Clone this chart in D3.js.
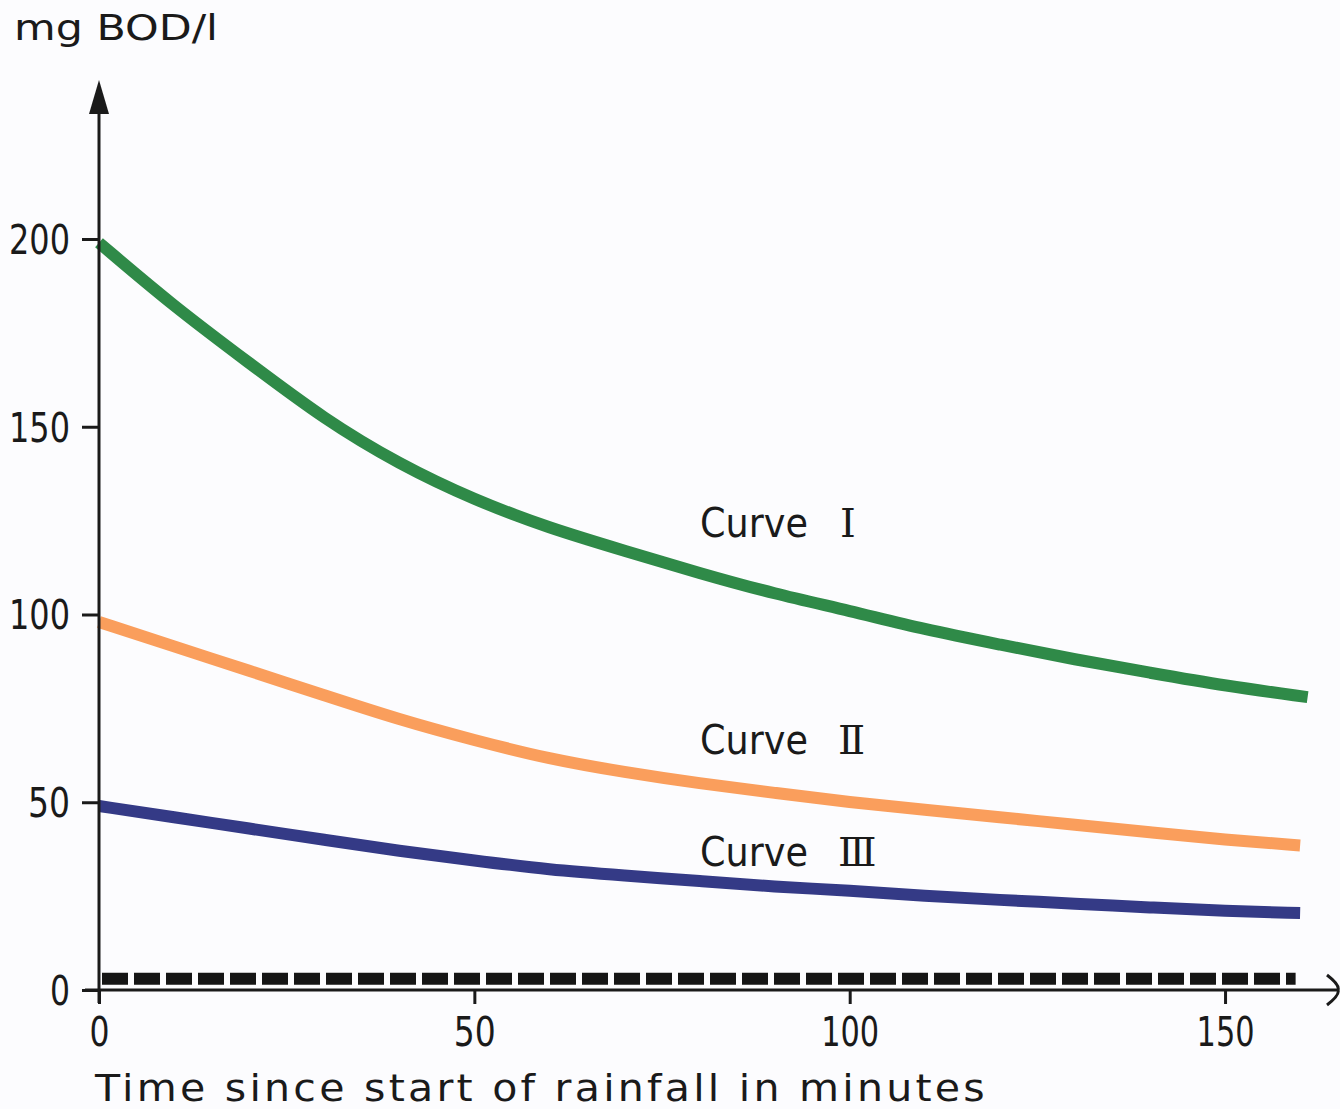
<!DOCTYPE html>
<html>
<head>
<meta charset="utf-8">
<script src="https://cdn.jsdelivr.net/npm/d3@7"></script>
<style>
  html, body { margin: 0; padding: 0; background: #fcfcfe; }
  svg { display: block; }
  text { font-family: "DejaVu Sans", "Noto Sans", sans-serif; fill: #1a1a1a; }
</style>
</head>
<body>
<svg id="chart" width="1340" height="1109"></svg>
<script>
// ---- data ----
const timeMinutes = [0, 10, 20, 30, 40, 50, 60, 70, 80, 90, 100, 110, 120, 130, 140, 150, 160];
const curveI   = [199, 182, 167, 152, 140, 130.5, 123, 117, 111, 105.5, 101, 96, 92, 88, 84.5, 81, 78];
const curveII  = [98, 91.5, 85, 78.5, 72, 66.5, 61.5, 58, 55, 52.5, 50, 48, 46, 44, 42, 40, 38.5];
const curveIII = [49, 46, 43, 40, 37, 34.5, 32, 30.5, 29, 27.5, 26.5, 25, 24, 23, 22, 21, 20.5];
const baselineTime = [0, 159];
const baselineValue = [3, 3];
const seriesNames = ["Curve", "Curve", "Curve"];
const seriesNumerals = ["\u2160", "\u2161", "\u2162"];
const seriesColors = ["#2f8a48", "#fa9e5c", "#343a86"];
const xTicks = [0, 50, 100, 150];
const yTicks = [0, 50, 100, 150, 200];
const yAxisTitle = "mg BOD/l";
const xAxisTitle = "Time since start of rainfall in minutes";

// ---- scales ----
const svg = d3.select("#chart");
const x = d3.scaleLinear().domain([0, 160]).range([99, 99 + 160 * 7.507]);
const y = d3.scaleLinear().domain([0, 200]).range([990, 239]);

// ---- baseline dashed series ----
const base = baselineTime.map((t, i) => [t, baselineValue[i]]);
svg.append("path")
  .attr("d", d3.line().x(d => x(d[0])).y(d => y(d[1]))(base))
  .attr("transform", "translate(3,0)")
  .attr("fill", "none")
  .attr("stroke", "#151515")
  .attr("stroke-width", 12)
  .attr("stroke-dasharray", "26,6");

// ---- curves ----
const line = d3.line().x(d => x(d[0])).y(d => y(d[1])).curve(d3.curveBasis);
const allSeries = [curveI, curveII, curveIII];
allSeries.forEach((vals, i) => {
  const pts = timeMinutes.map((t, j) => [t, vals[j]]);
  if (i === 0) pts[pts.length - 1][0] = 161;
  svg.append("path")
    .attr("d", line(pts))
    .attr("fill", "none")
    .attr("stroke", seriesColors[i])
    .attr("stroke-width", 12)
    .attr("stroke-linecap", "butt");
});

// ---- axes ----
const yAx = svg.append("g").attr("transform", `translate(${x(0)},0)`)
  .call(d3.axisLeft(y).tickValues(yTicks).tickSize(17).tickPadding(12));
yAx.select(".domain").remove();
yAx.selectAll(".tick line").attr("stroke", "#1a1a1a").attr("stroke-width", 3);
yAx.selectAll(".tick text")
  .attr("font-size", 40)
  .attr("dy", "0.36em")
  .attr("textLength", d => String(d).length === 1 ? 20 : String(d).length === 2 ? 42 : 61)
  .attr("lengthAdjust", "spacingAndGlyphs");

const xAx = svg.append("g").attr("transform", `translate(0,${y(0)})`)
  .call(d3.axisBottom(x).tickValues(xTicks).tickSize(14).tickPadding(14));
xAx.select(".domain").remove();
xAx.selectAll(".tick line").attr("stroke", "#1a1a1a").attr("stroke-width", 3);
xAx.selectAll(".tick text")
  .attr("font-size", 40)
  .attr("dy", "0.71em")
  .attr("textLength", d => String(d).length === 1 ? 20 : String(d).length === 2 ? 42 : 58)
  .attr("lengthAdjust", "spacingAndGlyphs");

// axis lines
svg.append("line").attr("x1", x(0)).attr("x2", x(0)).attr("y1", 1003).attr("y2", 100)
  .attr("stroke", "#1a1a1a").attr("stroke-width", 3);
svg.append("path").attr("d", `M${x(0)},80 L${x(0) - 10},114 L${x(0) + 10},114 Z`)
  .attr("fill", "#1a1a1a");
svg.append("line").attr("x1", x(0) - 14).attr("x2", 1337).attr("y1", y(0)).attr("y2", y(0))
  .attr("stroke", "#1a1a1a").attr("stroke-width", 3);
svg.append("path").attr("d", `M1327,975 Q1340,985 1338,990 Q1340,995 1327,1005`)
  .attr("fill", "none").attr("stroke", "#1a1a1a").attr("stroke-width", 3);

// ---- titles ----
svg.append("text").attr("x", 14).attr("y", 40).attr("font-size", 35)
  .attr("textLength", 204).attr("lengthAdjust", "spacingAndGlyphs").text(yAxisTitle);
svg.append("text").attr("x", 95).attr("y", 1101).attr("font-size", 38)
  .attr("letter-spacing", 3)
  .attr("textLength", 893).attr("lengthAdjust", "spacingAndGlyphs").text(xAxisTitle);

// ---- curve labels ----
const labelPos = [
  {yb: 537, numX: 840},
  {yb: 754, numX: 838},
  {yb: 866, numX: 838}
];
seriesNames.forEach((n, i) => {
  svg.append("text").attr("x", 700).attr("y", labelPos[i].yb)
    .attr("font-size", 40)
    .attr("textLength", 108).attr("lengthAdjust", "spacingAndGlyphs")
    .text(n);
  svg.append("text").attr("x", labelPos[i].numX).attr("y", labelPos[i].yb)
    .attr("font-size", 40)
    .style("font-family", "'DejaVu Serif', 'Liberation Serif', serif")
    .text(seriesNumerals[i]);
});
</script>
</body>
</html>
